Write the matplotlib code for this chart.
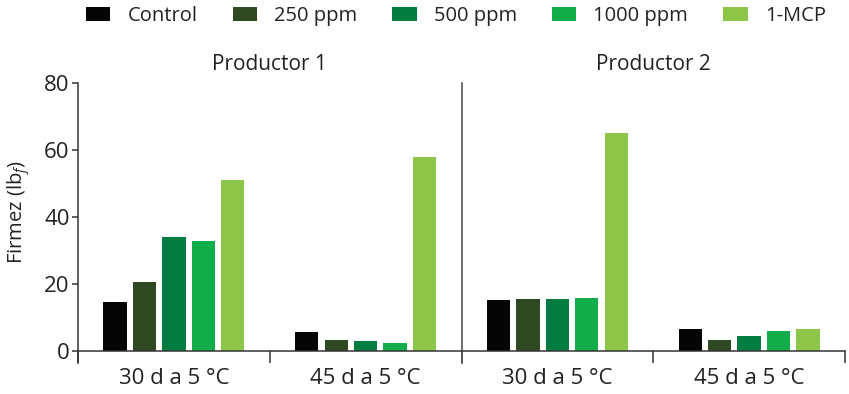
import matplotlib.pyplot as plt
import numpy as np
from matplotlib.patches import Patch

# 데이터
grupos = ['30 d a 5 °C', '45 d a 5 °C', '30 d a 5 °C', '45 d a 5 °C']
productores = ['Productor 1', 'Productor 2']
tratamientos = ['Control', '250 ppm', '500 ppm', '1000 ppm', '1-MCP']

control = [14.5, 5.6, 15.1, 6.5]
ppm_250 = [20.5, 3.2, 15.6, 3.4]
ppm_500 = [33.9, 3.0, 15.5, 4.4]
ppm_1000 = [32.9, 2.4, 15.8, 6.0]
mcp = [50.9, 57.9, 65.0, 6.6]

colores = ['#050505', '#2f4a22', '#037c41', '#12ad4b', '#8ec64a']
texto = '#222222'

plt.rcParams['font.family'] = ['Open Sans', 'DejaVu Sans']
plt.rcParams['mathtext.fontset'] = 'custom'
plt.rcParams['mathtext.rm'] = 'Open Sans'
plt.rcParams['mathtext.it'] = 'Open Sans:italic'
plt.rcParams['text.color'] = texto

fig = plt.figure(figsize=(8.49, 3.94), dpi=100)
ax = fig.add_axes([78 / 849, 1 - 363 / 394, 767 / 849, 280 / 394])

# 막대 그래프
x = np.arange(len(grupos)) + 0.5
paso = 0.1533
ancho = 0.1215
series = [control, ppm_250, ppm_500, ppm_1000, mcp]
for k, (valores, color) in enumerate(zip(series, colores)):
    ax.bar(x + (k - 2) * paso, valores, width=ancho, color=color, linewidth=0)

# 축 설정
ax.set_xlim(0, len(grupos))
ax.set_ylim(-3.6, 80)
ax.set_yticks([0, 20, 40, 60, 80])
ax.spines['top'].set_visible(False)
ax.spines['right'].set_visible(False)
ax.spines['bottom'].set_position(('data', 0))
for s in ['left', 'bottom']:
    ax.spines[s].set_color('#333333')
    ax.spines[s].set_linewidth(1.1)

ax.set_xticks(x)
ax.set_xticklabels(grupos)
ax.set_xticks(np.arange(len(grupos) + 1), minor=True)
ax.tick_params(axis='x', which='major', length=0, pad=12, labelsize=16, labelcolor=texto)
ax.tick_params(axis='x', which='minor', length=8.6, width=1.1, color='#333333', direction='out')
ax.tick_params(axis='y', length=4, width=1.1, color='#333333', pad=2, labelsize=16, labelcolor=texto)

# 구분선
ax.axvline(2, color='#555555', linewidth=1.2, clip_on=False)

# 생산자 제목
for i, nombre in enumerate(productores):
    ax.text(2 * i + 1, 85.4, nombre, ha='center', va='center', fontsize=15, clip_on=False)

ax.set_ylabel('Firmez (lb$_{f}$)', fontsize=14.5, color=texto)
ax.yaxis.set_label_coords(-0.0595, 0.54)

# 범례
handles = [Patch(facecolor=c, edgecolor='none', label=t) for c, t in zip(colores, tratamientos)]
fig.legend(handles=handles, loc='center', bbox_to_anchor=(456 / 849, 1 - 16 / 394), ncol=5,
           frameon=False, fontsize=14.5, handlelength=1.2, handleheight=0.72,
           handletextpad=0.85, columnspacing=1.75, borderpad=0)

fig.savefig('out.png', dpi=100)
